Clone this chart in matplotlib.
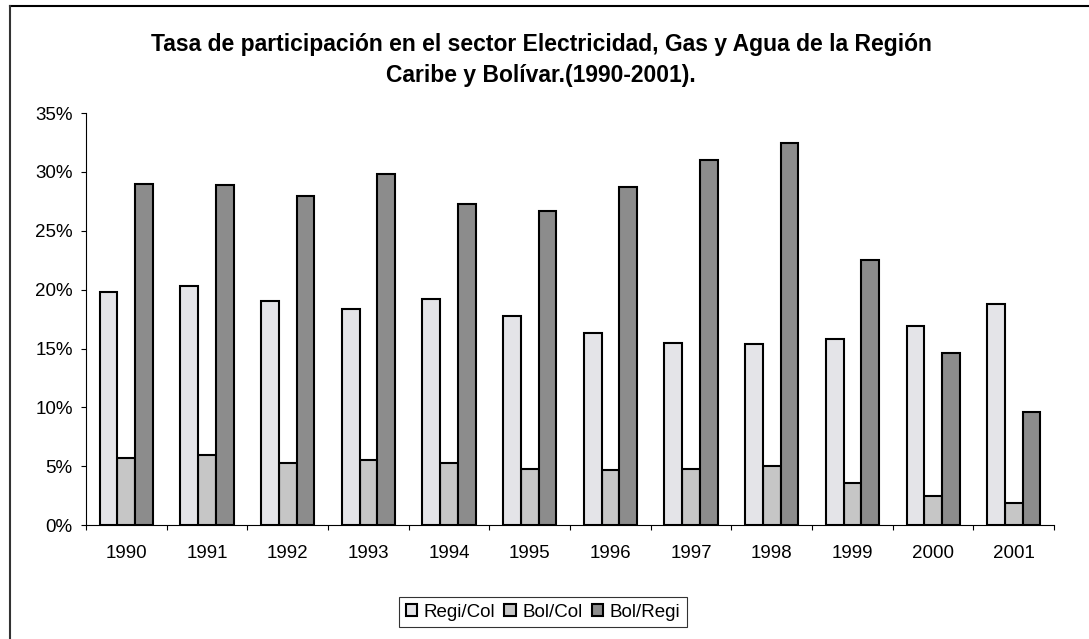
import numpy as np
import matplotlib.pyplot as plt
from matplotlib.lines import Line2D
from matplotlib.ticker import PercentFormatter, FixedLocator, NullFormatter

plt.rcParams['font.family'] = ['Liberation Sans', 'DejaVu Sans']

years = ['1990', '1991', '1992', '1993', '1994', '1995',
         '1996', '1997', '1998', '1999', '2000', '2001']
regi_col = [19.8, 20.3, 19.05, 18.4, 19.2, 17.8, 16.3, 15.5, 15.35, 15.8, 16.9, 18.8]
bol_col = [5.7, 5.95, 5.3, 5.5, 5.3, 4.8, 4.7, 4.8, 5.0, 3.6, 2.5, 1.9]
bol_regi = [29.0, 28.9, 27.95, 29.85, 27.3, 26.7, 28.7, 31.05, 32.45, 22.5, 14.6, 9.6]

fig = plt.figure(figsize=(10.89, 6.39), dpi=100)
ax = fig.add_axes([0.079, 0.178, 0.889, 0.645])

x = np.arange(len(years))
w = 0.22
ax.bar(x - w, regi_col, w, color='#e4e4e8', edgecolor='black', linewidth=1.5, label='Regi/Col', zorder=2)
ax.bar(x, bol_col, w, color='#c6c6c6', edgecolor='black', linewidth=1.5, label='Bol/Col', zorder=1)
ax.bar(x + w, bol_regi, w, color='#8c8c8c', edgecolor='black', linewidth=1.5, label='Bol/Regi', zorder=2)

ax.set_xlim(-0.5, len(years) - 0.5)
ax.set_ylim(0, 35)
ax.set_yticks(np.arange(0, 36, 5))
ax.yaxis.set_major_formatter(PercentFormatter(decimals=0))
ax.set_xticks(x)
ax.set_xticklabels(years)
ax.xaxis.set_minor_locator(FixedLocator(np.arange(-0.5, len(years), 1)))
ax.xaxis.set_minor_formatter(NullFormatter())
ax.tick_params(axis='x', which='major', length=0, pad=14, labelsize=13.5)
ax.tick_params(axis='x', which='minor', length=3.6, width=0.8)
ax.tick_params(axis='y', length=3.6, width=0.8, labelsize=13.5, pad=6)
for s in ['top', 'right']:
    ax.spines[s].set_visible(False)
ax.spines['left'].set_linewidth(0.8)
ax.spines['bottom'].set_linewidth(0.8)

fig.text(0.497, 0.906, 'Tasa de participación en el sector Electricidad, Gas y Agua de la Región\nCaribe y Bolívar.(1990-2001).',
         ha='center', va='center', fontsize=16.5, fontweight='bold', linespacing=1.45)

leg = fig.legend(loc='center', bbox_to_anchor=(0.4986, 0.042), ncol=3, fontsize=13.5,
                 frameon=True, fancybox=False, edgecolor='black', handlelength=0.6,
                 handleheight=0.6, handletextpad=0.35, columnspacing=0.5, borderpad=0.35)
leg.get_frame().set_linewidth(0.8)

# outer chart border (top and left edges only visible)
fig.add_artist(Line2D([0.009, 1.0], [0.991, 0.991], color='black', linewidth=1.5, transform=fig.transFigure))
fig.add_artist(Line2D([0.009, 0.009], [0.0, 0.991], color='#333333', linewidth=1.5, transform=fig.transFigure))

fig.savefig('out.png', dpi=100)
